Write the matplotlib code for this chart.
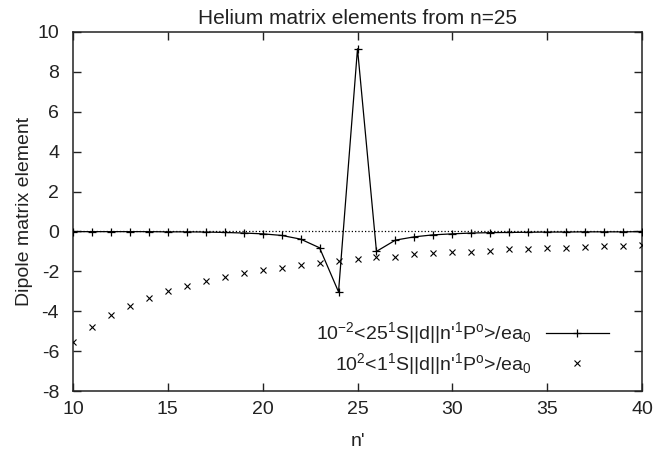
import matplotlib
matplotlib.use("Agg")
import matplotlib.pyplot as plt
import numpy as np

plt.rcParams['font.family'] = ['Liberation Sans', 'DejaVu Sans']
plt.rcParams['mathtext.fontset'] = 'custom'
plt.rcParams['mathtext.rm'] = 'Liberation Sans'
plt.rcParams['mathtext.it'] = 'Liberation Sans:italic'
plt.rcParams['mathtext.default'] = 'rm'
plt.rcParams['axes.unicode_minus'] = False

#------------- valeurs ---------------------------------------------
n = list(range(10, 41))

# 10^-2 <25 1S||d||n' 1P>
d25 = [-0.01, -0.01, -0.01, -0.01, -0.01, -0.02, -0.02, -0.03, -0.05, -0.08,
       -0.12, -0.20, -0.385, -0.82, -3.03, 9.16, -1.00, -0.435, -0.27, -0.17,
       -0.12, -0.08, -0.06, -0.05, -0.04, -0.03, -0.03, -0.02, -0.02, -0.02, -0.01]

# 10^2 <1 1S||d||n' 1P>
d1 = [-5.52, -4.79, -4.20, -3.72, -3.33, -3.00, -2.73, -2.48, -2.28, -2.09,
      -1.94, -1.81, -1.69, -1.56, -1.47, -1.39, -1.29, -1.26, -1.15, -1.10,
      -1.05, -1.02, -0.97, -0.90, -0.87, -0.84, -0.82, -0.79, -0.75, -0.72, -0.69]

lab25 = r"$10^{-2}$<25$^1$S||d||n'$^1$P$^{\rm o}$>/ea$_0$"
lab1 = r"$10^2$<1$^1$S||d||n'$^1$P$^{\rm o}$>/ea$_0$"

fs = 14
txt = '#222222'

#---------------------- graphique -----------------------------------
fig = plt.figure(figsize=(6.56, 4.57), dpi=100)
ax = fig.add_axes([73/656, 66/457, 569/656, 359/457])

ax.axhline(0, color='black', linestyle=':', linewidth=0.9, zorder=1)
ax.plot(n, d25, color='black', linewidth=0.9, marker='+', markersize=6,
        markeredgewidth=0.9, label=lab25, zorder=3)
ax.plot(n, d1, color='black', linestyle='none', marker='x', markersize=5,
        markeredgewidth=0.8, label=lab1, zorder=3)

ax.set_xlim(10, 40)
ax.set_ylim(-8, 10)
ax.set_xticks(np.arange(10, 41, 5))
ax.set_yticks(np.arange(-8, 11, 2))

ax.tick_params(direction='in', top=True, right=True, length=6, width=1,
               labelsize=fs, colors=txt)
ax.tick_params(axis='x', pad=7)
ax.tick_params(axis='y', pad=10)
for s in ax.spines.values():
    s.set_linewidth(1.1)
    s.set_color(txt)

ax.set_title('Helium matrix elements from n=25', fontsize=15, pad=6, color=txt)
ax.set_xlabel("n'", fontsize=fs, labelpad=11, color=txt)
ax.set_ylabel('Dipole matrix element', fontsize=fs, labelpad=3, color=txt)

leg = ax.legend(loc='upper right', bbox_to_anchor=(0.959, 0.224),
                frameon=False, markerfirst=False, fontsize=fs,
                handlelength=3.25, handletextpad=0.75, labelspacing=0.25,
                borderpad=0)
for t in leg.get_texts():
    t.set_color(txt)

fig.savefig('out.png', dpi=100)
